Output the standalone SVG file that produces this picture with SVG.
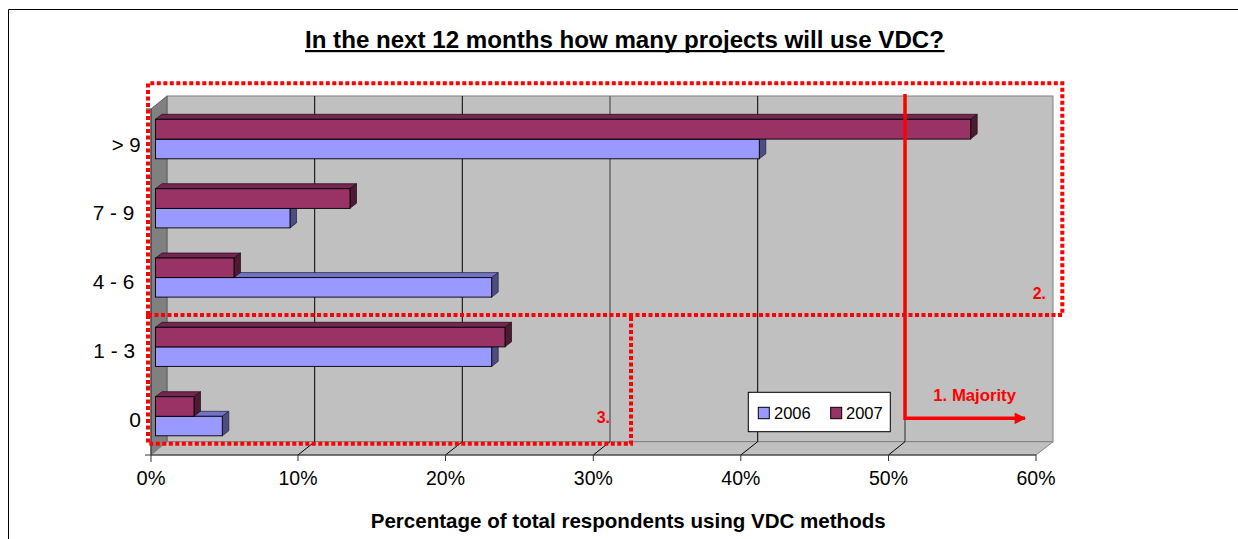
<svg xmlns="http://www.w3.org/2000/svg" width="1238" height="539" viewBox="0 0 1238 539">
<defs>
<style>
text{font-family:"Liberation Sans",Arial,sans-serif;fill:#000}
.lbl{font-size:19.5px}
.bold{font-weight:bold}
.red{fill:#ff0000;font-weight:bold}
.grid{stroke:#000;stroke-width:1}
.f06{fill:#9999ff;stroke:#000;stroke-width:0.9}
.t06{fill:#7373c4;stroke:#202040;stroke-width:0.7}
.s06{fill:#4d4d80;stroke:#202040;stroke-width:0.7}
.f07{fill:#993366;stroke:#000;stroke-width:0.9}
.t07{fill:#722650;stroke:#200818;stroke-width:0.7}
.s07{fill:#4d1a33;stroke:#200818;stroke-width:0.7}
.dot{fill:none;stroke:#ff0000;stroke-width:4;stroke-dasharray:4 2.5}
</style>
<marker id="ah" viewBox="0 0 10 10" refX="9" refY="5" markerWidth="3.6" markerHeight="3.3" orient="auto" markerUnits="strokeWidth">
<path d="M0,0 L10,5 L0,10 Z" fill="#ff0000"/>
</marker>
</defs>
<rect x="0" y="0" width="1238" height="539" fill="#fff"/>
<path d="M8.5,539 L8.5,9.5 L1238,9.5" fill="none" stroke="#000" stroke-width="1"/>

<g id="title">
<text x="305" y="48" class="bold" font-size="24" textLength="639" lengthAdjust="spacingAndGlyphs">In the next 12 months how many projects will use VDC?</text>
<rect x="305" y="50" width="639.5" height="2.2" fill="#000"/>
</g>

<g id="walls">
<rect x="167" y="96" width="886" height="345.7" fill="#c0c0c0" stroke="#808080" stroke-width="1"/>
<polygon points="151,109 167,96 167,441.7 151,455" fill="#808080" stroke="#606060" stroke-width="1"/>
<polygon points="151,455 167,441.7 1053,441.7 1036,455" fill="#c0c0c0" stroke="#808080" stroke-width="1"/>
</g>

<g id="gridlines">
<line class="grid" x1="314.7" y1="96" x2="314.7" y2="441.7"/>
<line class="grid" x1="462.3" y1="96" x2="462.3" y2="441.7"/>
<line x1="610" y1="96" x2="610" y2="441.7" stroke="#6b6b6b" stroke-width="1.6"/>
<line class="grid" x1="757.7" y1="96" x2="757.7" y2="441.7"/>
<line x1="905" y1="96" x2="905" y2="441.7" stroke="#555" stroke-width="1.4"/>
<g stroke="#000" stroke-width="1">
<line x1="298" y1="455" x2="314.7" y2="441.7"/>
<line x1="445.5" y1="455" x2="462.3" y2="441.7"/>
<line x1="593.3" y1="455" x2="610" y2="441.7"/>
<line x1="740.8" y1="455" x2="757.7" y2="441.7"/>
<line x1="888.5" y1="455" x2="905" y2="441.7"/>
</g>
</g>

<g id="axes" stroke="#333" stroke-width="1">
<line x1="151" y1="109" x2="151" y2="462"/>
<line x1="145" y1="455" x2="1036" y2="455"/>
<line x1="146" y1="109" x2="151" y2="109"/>
<line x1="146" y1="178.3" x2="151" y2="178.3"/>
<line x1="146" y1="247.6" x2="151" y2="247.6"/>
<line x1="146" y1="316.9" x2="151" y2="316.9"/>
<line x1="146" y1="386.2" x2="151" y2="386.2"/>
<line x1="298" y1="455" x2="298" y2="461"/>
<line x1="445.5" y1="455" x2="445.5" y2="461"/>
<line x1="593.3" y1="455" x2="593.3" y2="461"/>
<line x1="740.8" y1="455" x2="740.8" y2="461"/>
<line x1="888.5" y1="455" x2="888.5" y2="461"/>
<line x1="1036" y1="455" x2="1036" y2="461"/>
</g>

<g id="bars">
<g id="bar-gt9">
<polygon class="t06" points="155.5,139.3 162,134.3 765.8,134.3 759.3,139.3"/>
<polygon class="s06" points="759.3,139.3 765.8,134.3 765.8,153.8 759.3,158.8"/>
<rect class="f06" x="155.5" y="139.3" width="603.8" height="19.5"/>
<polygon class="t07" points="155.5,119.3 162,114.3 977.2,114.3 970.7,119.3"/>
<polygon class="s07" points="970.7,119.3 977.2,114.3 977.2,133.8 970.7,138.8"/>
<rect class="f07" x="155.5" y="119.3" width="815.2" height="19.8"/>
</g>
<g id="bar-7-9">
<polygon class="t06" points="155.5,208.4 162,203.4 296.5,203.4 290,208.4"/>
<polygon class="s06" points="290,208.4 296.5,203.4 296.5,222.9 290,227.9"/>
<rect class="f06" x="155.5" y="208.4" width="134.5" height="19.5"/>
<polygon class="t07" points="155.5,188.7 162,183.7 356.5,183.7 350,188.7"/>
<polygon class="s07" points="350,188.7 356.5,183.7 356.5,203.2 350,208.2"/>
<rect class="f07" x="155.5" y="188.7" width="194.5" height="19.7"/>
</g>
<g id="bar-4-6">
<polygon class="t06" points="155.5,277.6 162,272.6 498.2,272.6 491.7,277.6"/>
<polygon class="s06" points="491.7,277.6 498.2,272.6 498.2,292.1 491.7,297.1"/>
<rect class="f06" x="155.5" y="277.6" width="336.2" height="19.5"/>
<polygon class="t07" points="155.5,258 162,253 240.5,253 234,258"/>
<polygon class="s07" points="234,258 240.5,253 240.5,272.5 234,277.5"/>
<rect class="f07" x="155.5" y="258" width="78.5" height="19.6"/>
</g>
<g id="bar-1-3">
<polygon class="t06" points="155.5,346.9 162,341.9 498.2,341.9 491.7,346.9"/>
<polygon class="s06" points="491.7,346.9 498.2,341.9 498.2,361.4 491.7,366.4"/>
<rect class="f06" x="155.5" y="346.9" width="336.2" height="19.5"/>
<polygon class="t07" points="155.5,327.3 162,322.3 511.5,322.3 505,327.3"/>
<polygon class="s07" points="505,327.3 511.5,322.3 511.5,341.8 505,346.8"/>
<rect class="f07" x="155.5" y="327.3" width="349.5" height="19.6"/>
</g>
<g id="bar-0">
<polygon class="t06" points="155.5,416.3 162,411.3 228.8,411.3 222.3,416.3"/>
<polygon class="s06" points="222.3,416.3 228.8,411.3 228.8,430.8 222.3,435.8"/>
<rect class="f06" x="155.5" y="416.3" width="66.8" height="19.5"/>
<polygon class="t07" points="155.5,396.7 162,391.7 200.5,391.7 194,396.7"/>
<polygon class="s07" points="194,396.7 200.5,391.7 200.5,411.2 194,416.2"/>
<rect class="f07" x="155.5" y="396.7" width="38.5" height="19.6"/>
</g>
</g>

<g id="category-labels" class="lbl">
<text x="111.7" y="151.5" textLength="29" lengthAdjust="spacingAndGlyphs">&gt; 9</text>
<text x="92.7" y="220" textLength="41.6" lengthAdjust="spacingAndGlyphs">7 - 9</text>
<text x="92.7" y="289" textLength="41.6" lengthAdjust="spacingAndGlyphs">4 - 6</text>
<text x="93.3" y="357.7" textLength="41.7" lengthAdjust="spacingAndGlyphs">1 - 3</text>
<text x="129.3" y="427.3" textLength="11.7" lengthAdjust="spacingAndGlyphs">0</text>
</g>

<g id="value-labels" class="lbl" text-anchor="middle">
<text x="151" y="485" textLength="29" lengthAdjust="spacingAndGlyphs">0%</text>
<text x="298" y="485" textLength="39" lengthAdjust="spacingAndGlyphs">10%</text>
<text x="445.5" y="485" textLength="39" lengthAdjust="spacingAndGlyphs">20%</text>
<text x="593.3" y="485" textLength="39" lengthAdjust="spacingAndGlyphs">30%</text>
<text x="740.8" y="485" textLength="39" lengthAdjust="spacingAndGlyphs">40%</text>
<text x="888.5" y="485" textLength="39" lengthAdjust="spacingAndGlyphs">50%</text>
<text x="1036" y="485" textLength="39" lengthAdjust="spacingAndGlyphs">60%</text>
</g>

<g id="axis-title">
<text x="370.7" y="528" class="bold" font-size="21" textLength="515" lengthAdjust="spacingAndGlyphs">Percentage of total respondents using VDC methods</text>
</g>

<g id="legend">
<rect x="748.3" y="392.3" width="142" height="39.4" fill="#fff" stroke="#000" stroke-width="1"/>
<rect x="758.3" y="407.3" width="11" height="11.4" fill="#9999ff" stroke="#000" stroke-width="1"/>
<text x="774" y="419" font-size="16.5" textLength="36.7" lengthAdjust="spacingAndGlyphs">2006</text>
<rect x="830.7" y="407.3" width="11" height="11.4" fill="#993366" stroke="#000" stroke-width="1"/>
<text x="846" y="419" font-size="16.5" textLength="36.7" lengthAdjust="spacingAndGlyphs">2007</text>
</g>

<g id="annotations">
<path class="dot" d="M148,315 L148,83.3 L1062.3,83.3 L1062.3,315 Z"/>
<path class="dot" d="M148,315 L148,443.7 L631,443.7 L631,315"/>
<text x="1032.7" y="299" class="red" font-size="17" textLength="13.3" lengthAdjust="spacingAndGlyphs">2.</text>
<text x="596.7" y="422.7" class="red" font-size="17" textLength="13.3" lengthAdjust="spacingAndGlyphs">3.</text>
<path d="M905,94 L905,418.3 L1025,418.3" fill="none" stroke="#ff0000" stroke-width="3.5" marker-end="url(#ah)"/>
<text x="933.3" y="400.7" class="red" font-size="17" textLength="82.7" lengthAdjust="spacingAndGlyphs">1. Majority</text>
</g>
</svg>
